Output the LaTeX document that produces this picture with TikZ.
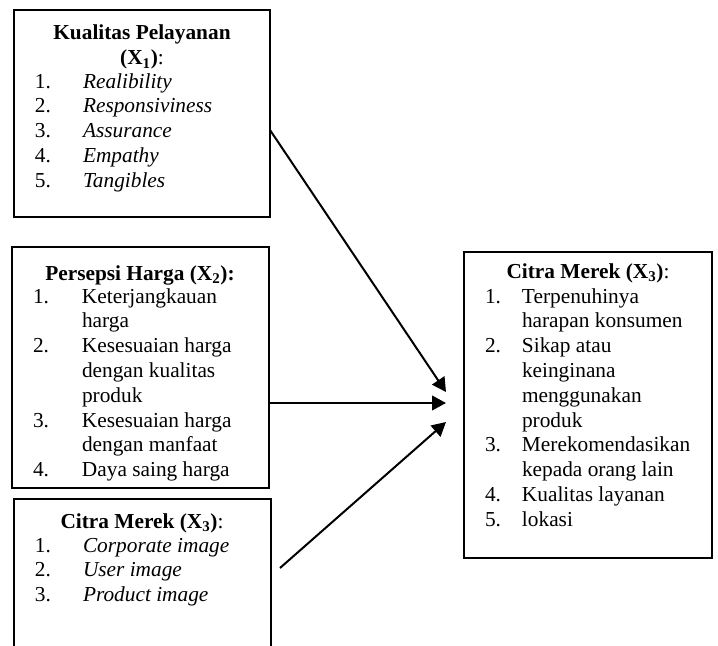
\documentclass[tikz,border=0pt]{standalone}
\usepackage{fontspec}
\setmainfont{Liberation Serif}
\usetikzlibrary{arrows.meta,calc}
\newcommand\itemlist[2]{\begin{tabular}[t]{@{}p{#1}@{}l@{}}#2\end{tabular}}
\newcommand\titlelines[1]{\begin{tabular}[t]{@{}c@{}}#1\end{tabular}}
\begin{document}
\begin{tikzpicture}[x=0.75pt,y=-0.75pt,
  box/.style={draw,line width=1.2pt,inner sep=0pt,outer sep=0pt},
  txt/.style={inner sep=0pt,outer sep=0pt,font=\fontsize{16}{18.6}\selectfont},
  link/.style={line width=1.5pt,-{Triangle[length=10.5pt,width=11pt]}}]
\useasboundingbox (0,0) rectangle (718,646);
\clip (0,0) rectangle (718,646);

% boxes
\node[box,minimum width=192pt,minimum height=155.25pt] (b1) at (142,113.5) {};
\node[box,minimum width=192.75pt,minimum height=180.75pt] (b2) at (140.5,367.5) {};
\node[box,minimum width=192.75pt,minimum height=128.25pt] (b3) at (142.5,584.5) {};
\node[box,minimum width=186pt,minimum height=229.5pt] (b4) at (588,405) {};

% box 1 text
\node[txt,anchor=base] (h1) at (142,40) {\titlelines{\textbf{Kualitas Pelayanan}\\ \textbf{(X\textsubscript{1})}:}};
\node[txt,anchor=base west] (l1) at (35,88) {\itemlist{36pt}{%
1. & \textit{Realibility}\\
2. & \textit{Responsiviness}\\
3. & \textit{Assurance}\\
4. & \textit{Empathy}\\
5. & \textit{Tangibles}}};

% box 2 text
\node[txt,anchor=base] (h2) at (140,280) {\textbf{Persepsi Harga (X\textsubscript{2}):}};
\node[txt,anchor=base west] (l2) at (33,303) {\itemlist{36.75pt}{%
1. & Keterjangkauan\\
   & harga\\
2. & Kesesuaian harga\\
   & dengan kualitas\\
   & produk\\
3. & Kesesuaian harga\\
   & dengan manfaat\\
4. & Daya saing harga}};

% box 3 text
\node[txt,anchor=base] (h3) at (142,528) {\textbf{Citra Merek (X\textsubscript{3})}:};
\node[txt,anchor=base west] (l3) at (35,552) {\itemlist{36pt}{%
1. & \textit{Corporate image}\\
2. & \textit{User image}\\
3. & \textit{Product image}}};

% box 4 text
\node[txt,anchor=base] (h4) at (588,278) {\textbf{Citra Merek (X\textsubscript{3})}:};
\node[txt,anchor=base west] (l4) at (485,303) {\itemlist{27.75pt}{%
1. & Terpenuhinya\\
   & harapan konsumen\\
2. & Sikap atau\\
   & keinginana\\
   & menggunakan\\
   & produk\\
3. & Merekomendasikan\\
   & kepada orang lain\\
4. & Kualitas layanan\\
5. & lokasi}};

% connectors
\coordinate (s1) at ($(b1.east)+(0,16.5)$);
\coordinate (s2) at ($(b2.east)+(0,35.5)$);
\coordinate (s3) at ($(b3.east)+(9,-16.5)$);
\coordinate (e1) at ($(b4.west)+(-18,-13)$);
\coordinate (e2) at ($(b4.west)+(-18,-2)$);
\coordinate (e3) at ($(b4.west)+(-18,17)$);
\draw[link] (s1) -- (e1);
\draw[link] (s2) -- (e2);
\draw[link] (s3) -- (e3);
\end{tikzpicture}
\end{document}
